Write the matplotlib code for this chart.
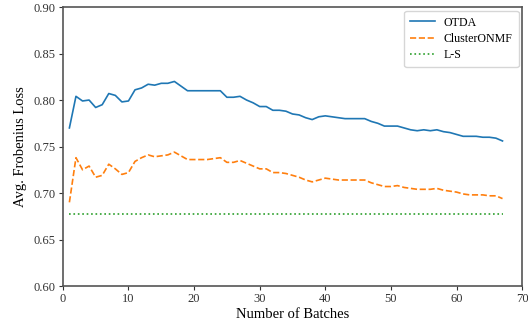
import numpy as np
import matplotlib
matplotlib.use('Agg')
import matplotlib.pyplot as plt

plt.rcParams['font.family'] = ['Liberation Serif', 'DejaVu Serif']

batches = np.arange(1, 68)

otda = [0.770, 0.804, 0.799, 0.800, 0.792, 0.795, 0.807, 0.805, 0.798, 0.799,
        0.811, 0.813, 0.817, 0.816, 0.818, 0.818, 0.820, 0.815, 0.810, 0.810,
        0.810, 0.810, 0.810, 0.810, 0.803, 0.803, 0.804, 0.800, 0.797, 0.793,
        0.793, 0.789, 0.789, 0.788, 0.785, 0.784, 0.781, 0.779, 0.782, 0.783,
        0.782, 0.781, 0.780, 0.780, 0.780, 0.780, 0.777, 0.775, 0.772, 0.772,
        0.772, 0.770, 0.768, 0.767, 0.768, 0.767, 0.768, 0.766, 0.765, 0.763,
        0.761, 0.761, 0.761, 0.760, 0.760, 0.759, 0.756]

cluster_onmf = [0.690, 0.738, 0.725, 0.729, 0.717, 0.719, 0.731, 0.726, 0.720, 0.722,
                0.734, 0.738, 0.741, 0.739, 0.740, 0.741, 0.744, 0.740, 0.736, 0.736,
                0.736, 0.736, 0.737, 0.738, 0.733, 0.733, 0.735, 0.732, 0.729, 0.726,
                0.726, 0.722, 0.722, 0.721, 0.719, 0.717, 0.714, 0.712, 0.714, 0.716,
                0.715, 0.714, 0.714, 0.714, 0.714, 0.714, 0.711, 0.709, 0.707, 0.707,
                0.708, 0.706, 0.705, 0.704, 0.704, 0.704, 0.705, 0.703, 0.702, 0.701,
                0.699, 0.698, 0.698, 0.698, 0.697, 0.697, 0.694]

ls_value = 0.677
ls = [ls_value] * len(batches)

fig = plt.figure(figsize=(5.28, 3.21), dpi=100)
ax = fig.add_axes([0.119, 0.109, 0.870, 0.869])

ax.plot(batches, otda, color='#1f77b4', linestyle='-', lw=1.2, label='OTDA')
ax.plot(batches, cluster_onmf, color='#ff7f0e', linestyle='--', lw=1.2, label='ClusterONMF')
ax.plot(batches, ls, color='#2ca02c', linestyle=':', lw=1.2, label='L-S')

ax.set_xlim(0, 70)
ax.set_ylim(0.60, 0.90)
ax.set_xticks(np.arange(0, 71, 10))
ax.set_yticks(np.arange(0.60, 0.901, 0.05))
ax.set_yticklabels(['%.2f' % v for v in np.arange(0.60, 0.901, 0.05)])
ax.tick_params(labelsize=9, colors='#333333', length=3, pad=2)

for s in ax.spines.values():
    s.set_color('#555555')
    s.set_linewidth(1.2)

ax.set_xlabel('Number of Batches', fontsize=10.5, labelpad=2)
ax.set_ylabel('Avg. Frobenius Loss', fontsize=10.5, labelpad=5)

ax.legend(loc='upper right', fontsize=8.6, handlelength=2.1, handletextpad=0.7,
          borderaxespad=0.3, labelspacing=0.35, borderpad=0.5)

fig.savefig('out.png', dpi=100)
